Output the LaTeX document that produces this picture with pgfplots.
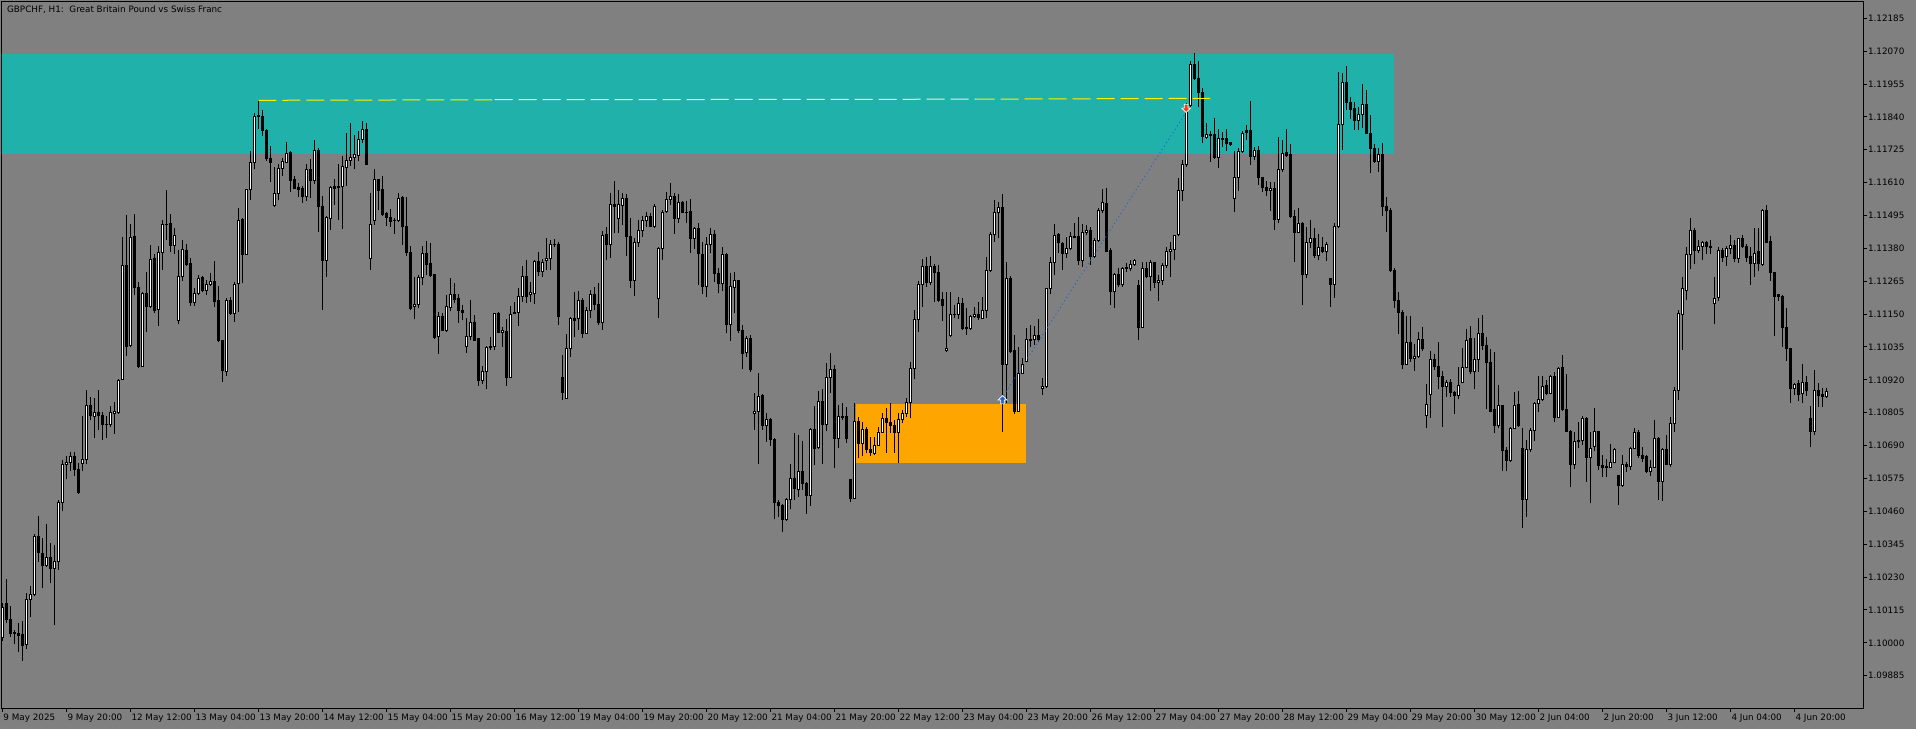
\documentclass[border=0pt]{standalone}
\usepackage{fontspec}
\setmainfont{DejaVu Sans}
\usepackage{pgfplots}
\usepackage{pgfplotstable}
\pgfplotsset{compat=1.18}
\definecolor{bggray}{HTML}{808080}
\definecolor{zonecyan}{HTML}{20B2AA}
\definecolor{zoneorange}{HTML}{FFA500}
\definecolor{tradeblue}{HTML}{1E64C8}
\definecolor{tradered}{HTML}{E8401C}
\definecolor{palelevel}{HTML}{E8F4EC}

\pgfplotstableread{
k o h l c
0 1.10018 1.10141 1.10005 1.10122
3 1.10034 1.10044 1.09996 1.10037
6 1.09993 1.10174 1.09977 1.10150
7 1.10150 1.10200 1.10090 1.10170
8 1.10170 1.10381 1.10163 1.10372
11 1.10271 1.10417 1.10264 1.10297
13 1.10260 1.10342 1.10064 1.10284
14 1.10284 1.10500 1.10255 1.10491
15 1.10491 1.10640 1.10461 1.10624
16 1.10624 1.10653 1.10572 1.10631
17 1.10631 1.10666 1.10601 1.10653
20 1.10629 1.10795 1.10601 1.10642
21 1.10642 1.10886 1.10624 1.10830
23 1.10792 1.10856 1.10715 1.10805
27 1.10765 1.10827 1.10756 1.10805
28 1.10801 1.10843 1.10730 1.10808
29 1.10805 1.10924 1.10801 1.10918
30 1.10922 1.11419 1.10918 1.11320
32 1.11041 1.11465 1.11034 1.11419
35 1.10968 1.11229 1.10966 1.11222
37 1.11177 1.11393 1.11170 1.11340
39 1.11166 1.11390 1.11110 1.11365
40 1.11367 1.11481 1.11304 1.11464
43 1.11390 1.11451 1.11361 1.11425
44 1.11129 1.11375 1.11115 1.11280
45 1.11283 1.11410 1.11267 1.11375
48 1.11190 1.11242 1.11177 1.11222
49 1.11222 1.11287 1.11216 1.11274
51 1.11234 1.11271 1.11216 1.11255
52 1.11255 1.11293 1.11248 1.11265
56 1.10948 1.11207 1.10935 1.11199
58 1.11152 1.11261 1.11121 1.11255
59 1.11257 1.11520 1.11158 1.11478
61 1.11359 1.11587 1.11358 1.11585
62 1.11585 1.11720 1.11548 1.11680
63 1.11680 1.11854 1.11656 1.11842
68 1.11530 1.11665 1.11526 1.11572
69 1.11572 1.11675 1.11548 1.11660
70 1.11660 1.11697 1.11634 1.11684
71 1.11682 1.11753 1.11678 1.11711
76 1.11561 1.11675 1.11546 1.11656
78 1.11617 1.11759 1.11604 1.11724
81 1.11339 1.11494 1.11280 1.11488
82 1.11485 1.11598 1.11445 1.11594
84 1.11594 1.11675 1.11481 1.11596
85 1.11595 1.11704 1.11449 1.11665
86 1.11662 1.11783 1.11600 1.11688
87 1.11686 1.11820 1.11669 1.11698
88 1.11697 1.11776 1.11656 1.11709
89 1.11706 1.11792 1.11684 1.11762
90 1.11762 1.11824 1.11750 1.11797
92 1.11345 1.11574 1.11304 1.11464
93 1.11478 1.11656 1.11462 1.11620
99 1.11477 1.11574 1.11471 1.11555
103 1.11177 1.11280 1.11132 1.11183
104 1.11183 1.11287 1.11170 1.11278
105 1.11278 1.11390 1.11251 1.11361
109 1.11070 1.11158 1.11009 1.11142
111 1.11093 1.11216 1.11089 1.11177
112 1.11173 1.11278 1.11160 1.11220
116 1.11038 1.11138 1.11015 1.11070
117 1.11071 1.11199 1.11059 1.11121
120 1.10919 1.10968 1.10905 1.10948
121 1.10948 1.11038 1.10888 1.11034
122 1.11034 1.11071 1.11024 1.11036
123 1.11036 1.11155 1.11024 1.11153
125 1.11085 1.11106 1.11036 1.11092
127 1.10929 1.11178 1.10925 1.11150
128 1.11153 1.11194 1.11150 1.11156
129 1.11156 1.11240 1.11108 1.11211
130 1.11211 1.11318 1.11194 1.11281
132 1.11217 1.11263 1.11194 1.11225
133 1.11223 1.11339 1.11184 1.11335
135 1.11298 1.11342 1.11279 1.11331
136 1.11336 1.11415 1.11304 1.11345
137 1.11345 1.11409 1.11304 1.11395
141 1.10855 1.11079 1.10852 1.11030
142 1.11030 1.11141 1.11001 1.11135
144 1.11135 1.11232 1.11094 1.11199
146 1.11083 1.11176 1.11079 1.11164
147 1.11164 1.11234 1.11138 1.11219
150 1.11121 1.11441 1.11094 1.11424
152 1.11395 1.11575 1.11345 1.11535
154 1.11485 1.11584 1.11433 1.11532
155 1.11529 1.11575 1.11462 1.11555
158 1.11269 1.11415 1.11213 1.11401
159 1.11401 1.11479 1.11386 1.11444
160 1.11444 1.11493 1.11421 1.11479
161 1.11479 1.11508 1.11456 1.11491
163 1.11456 1.11534 1.11450 1.11528
164 1.11205 1.11386 1.11135 1.11380
165 1.11380 1.11514 1.11339 1.11506
166 1.11508 1.11578 1.11505 1.11552
167 1.11552 1.11610 1.11532 1.11563
169 1.11485 1.11570 1.11468 1.11540
173 1.11415 1.11456 1.11378 1.11450
176 1.11246 1.11421 1.11209 1.11395
177 1.11395 1.11450 1.11363 1.11430
180 1.11258 1.11384 1.11232 1.11359
182 1.11114 1.11293 1.11057 1.11246
183 1.11244 1.11299 1.11153 1.11266
186 1.11016 1.11075 1.11001 1.11063
188 1.10803 1.10875 1.10745 1.10809
189 1.10809 1.10945 1.10624 1.10861
191 1.10760 1.10805 1.10704 1.10780
196 1.10430 1.10505 1.10427 1.10502
197 1.10502 1.10626 1.10467 1.10575
199 1.10538 1.10727 1.10511 1.10599
202 1.10515 1.10750 1.10479 1.10745
204 1.10684 1.10882 1.10677 1.10846
206 1.10764 1.10978 1.10742 1.10929
207 1.10929 1.11015 1.10875 1.10957
209 1.10715 1.10832 1.10680 1.10791
210 1.10789 1.10838 1.10780 1.10791
213 1.10505 1.10838 1.10502 1.10776
215 1.10698 1.10774 1.10654 1.10745
218 1.10663 1.10721 1.10657 1.10692
219 1.10692 1.10754 1.10689 1.10736
220 1.10736 1.10803 1.10733 1.10785
224 1.10736 1.10803 1.10628 1.10780
225 1.10780 1.10815 1.10768 1.10803
226 1.10803 1.10855 1.10789 1.10841
227 1.10841 1.10984 1.10785 1.10960
228 1.10960 1.11164 1.10922 1.11132
229 1.11132 1.11266 1.11089 1.11254
230 1.11254 1.11342 1.11176 1.11316
232 1.11260 1.11353 1.11252 1.11316
236 1.11021 1.11226 1.11019 1.11030
237 1.11074 1.11229 1.11071 1.11149
238 1.11147 1.11182 1.11135 1.11149
239 1.11149 1.11211 1.11133 1.11188
242 1.11100 1.11147 1.11094 1.11141
243 1.11141 1.11176 1.11138 1.11149
245 1.11135 1.11211 1.11133 1.11162
246 1.11162 1.11351 1.11135 1.11302
247 1.11302 1.11439 1.11299 1.11429
248 1.11429 1.11549 1.11404 1.11506
249 1.11506 1.11543 1.11415 1.11524
251 1.10974 1.11334 1.10838 1.11273
254 1.10811 1.11036 1.10809 1.10943
255 1.10943 1.10995 1.10943 1.10974
256 1.10984 1.11100 1.10981 1.11060
257 1.11056 1.11112 1.11036 1.11060
258 1.11060 1.11110 1.11042 1.11074
260 1.10890 1.10928 1.10867 1.10896
261 1.10896 1.11243 1.10890 1.11240
262 1.11240 1.11351 1.11219 1.11331
263 1.11331 1.11464 1.11287 1.11425
266 1.11363 1.11421 1.11345 1.11378
267 1.11378 1.11439 1.11374 1.11423
270 1.11336 1.11465 1.11316 1.11436
271 1.11436 1.11462 1.11427 1.11441
273 1.11350 1.11415 1.11345 1.11409
274 1.11409 1.11520 1.11404 1.11514
275 1.11514 1.11588 1.11503 1.11541
278 1.11229 1.11293 1.11173 1.11289
280 1.11252 1.11316 1.11246 1.11310
281 1.11308 1.11328 1.11299 1.11313
282 1.11310 1.11339 1.11301 1.11322
283 1.11322 1.11342 1.11320 1.11339
285 1.11103 1.11334 1.11100 1.11310
287 1.11281 1.11339 1.11231 1.11331
289 1.11261 1.11287 1.11196 1.11269
290 1.11269 1.11328 1.11252 1.11320
291 1.11320 1.11386 1.11313 1.11369
292 1.11369 1.11404 1.11281 1.11377
293 1.11377 1.11427 1.11339 1.11425
294 1.11427 1.11625 1.11425 1.11581
295 1.11581 1.11689 1.11546 1.11672
296 1.11672 1.11888 1.11666 1.11879
297 1.11879 1.12036 1.11876 1.12022
301 1.11767 1.11818 1.11763 1.11779
304 1.11697 1.11798 1.11662 1.11763
305 1.11762 1.11786 1.11736 1.11764
308 1.11553 1.11721 1.11508 1.11629
309 1.11629 1.11732 1.11581 1.11718
310 1.11718 1.11791 1.11713 1.11783
313 1.11703 1.11735 1.11689 1.11721
317 1.11584 1.11613 1.11511 1.11588
319 1.11482 1.11771 1.11468 1.11657
320 1.11657 1.11759 1.11648 1.11713
324 1.11436 1.11520 1.11433 1.11468
326 1.11289 1.11456 1.11275 1.11401
327 1.11401 1.11479 1.11380 1.11415
329 1.11355 1.11429 1.11339 1.11384
331 1.11369 1.11404 1.11336 1.11392
333 1.11252 1.11468 1.11205 1.11456
334 1.11456 1.11998 1.11453 1.11814
335 1.11814 1.11993 1.11724 1.11961
339 1.11826 1.11876 1.11794 1.11847
340 1.11847 1.11954 1.11800 1.11884
344 1.11683 1.11732 1.11648 1.11707
351 1.10974 1.11143 1.10972 1.11051
353 1.10995 1.11044 1.10951 1.11001
354 1.11001 1.11086 1.10998 1.11062
356 1.10794 1.10904 1.10753 1.10834
357 1.10869 1.11021 1.10785 1.10990
361 1.10896 1.10920 1.10861 1.10911
364 1.10867 1.10966 1.10852 1.10902
365 1.10911 1.11030 1.10908 1.10964
366 1.10964 1.11098 1.10960 1.11056
368 1.10949 1.11065 1.10887 1.10993
369 1.10993 1.11135 1.10949 1.11083
374 1.10760 1.10902 1.10750 1.10832
377 1.10637 1.10756 1.10634 1.10750
378 1.10750 1.10879 1.10747 1.10832
381 1.10502 1.10710 1.10441 1.10677
382 1.10677 1.10750 1.10669 1.10742
383 1.10742 1.10844 1.10706 1.10838
384 1.10838 1.10934 1.10809 1.10852
385 1.10852 1.10934 1.10846 1.10896
387 1.10873 1.10937 1.10869 1.10931
389 1.10788 1.10966 1.10785 1.10960
393 1.10625 1.10736 1.10608 1.10704
394 1.10704 1.10774 1.10683 1.10707
395 1.10707 1.10794 1.10692 1.10785
397 1.10648 1.10739 1.10488 1.10681
398 1.10686 1.10820 1.10671 1.10739
401 1.10615 1.10642 1.10581 1.10618
402 1.10614 1.10695 1.10611 1.10632
403 1.10632 1.10681 1.10628 1.10675
405 1.10550 1.10657 1.10546 1.10625
407 1.10616 1.10686 1.10605 1.10681
408 1.10681 1.10753 1.10677 1.10737
412 1.10599 1.10640 1.10585 1.10614
413 1.10614 1.10780 1.10611 1.10716
415 1.10564 1.10681 1.10496 1.10675
417 1.10625 1.10791 1.10616 1.10766
418 1.10766 1.10896 1.10739 1.10882
419 1.10882 1.11164 1.10850 1.11153
420 1.11149 1.11281 1.11024 1.11240
421 1.11233 1.11386 1.11199 1.11359
422 1.11359 1.11485 1.11307 1.11441
424 1.11374 1.11409 1.11363 1.11388
425 1.11388 1.11406 1.11339 1.11401
428 1.11188 1.11279 1.11114 1.11205
429 1.11209 1.11386 1.11196 1.11374
431 1.11353 1.11388 1.11318 1.11380
432 1.11380 1.11427 1.11359 1.11390
434 1.11345 1.11418 1.11328 1.11413
438 1.11328 1.11450 1.11281 1.11363
440 1.11324 1.11517 1.11320 1.11512
448 1.10890 1.10908 1.10867 1.10904
450 1.10873 1.10974 1.10838 1.10910
453 1.10739 1.10955 1.10727 1.10882
456 1.10861 1.10890 1.10855 1.10879
}\bull

\pgfplotstableread{
k o h l c
1 1.10137 1.10223 1.10070 1.10081
2 1.10083 1.10128 1.10021 1.10031
4 1.10034 1.10070 1.09967 1.10024
5 1.10028 1.10077 1.09937 1.09989
9 1.10372 1.10443 1.10284 1.10316
10 1.10313 1.10368 1.10193 1.10271
12 1.10297 1.10349 1.10209 1.10260
18 1.10653 1.10668 1.10584 1.10605
19 1.10607 1.10629 1.10521 1.10526
22 1.10830 1.10860 1.10778 1.10795
24 1.10805 1.10883 1.10743 1.10795
25 1.10795 1.10808 1.10711 1.10763
26 1.10765 1.10795 1.10717 1.10764
31 1.11320 1.11497 1.11005 1.11038
33 1.11423 1.11499 1.11216 1.11242
34 1.11244 1.11261 1.10961 1.10966
36 1.11222 1.11297 1.11089 1.11177
38 1.11343 1.11361 1.11153 1.11161
41 1.11464 1.11585 1.11410 1.11462
42 1.11467 1.11499 1.11367 1.11390
46 1.11374 1.11397 1.11317 1.11322
47 1.11326 1.11345 1.11177 1.11190
50 1.11277 1.11284 1.11229 1.11233
53 1.11265 1.11337 1.11174 1.11194
54 1.11196 1.11248 1.11054 1.11057
55 1.11059 1.11060 1.10914 1.10953
57 1.11199 1.11209 1.11148 1.11152
60 1.11481 1.11488 1.11258 1.11359
64 1.11845 1.11899 1.11798 1.11841
65 1.11843 1.11863 1.11772 1.11792
66 1.11794 1.11798 1.11686 1.11693
67 1.11696 1.11737 1.11613 1.11682
72 1.11714 1.11720 1.11578 1.11617
73 1.11620 1.11634 1.11587 1.11591
74 1.11594 1.11607 1.11559 1.11587
75 1.11591 1.11600 1.11539 1.11561
77 1.11656 1.11691 1.11555 1.11617
79 1.11724 1.11731 1.11436 1.11526
80 1.11526 1.11565 1.11164 1.11339
83 1.11595 1.11623 1.11533 1.11590
91 1.11797 1.11818 1.11671 1.11673
94 1.11620 1.11623 1.11513 1.11582
95 1.11585 1.11632 1.11494 1.11500
96 1.11503 1.11507 1.11458 1.11488
97 1.11488 1.11517 1.11455 1.11475
98 1.11478 1.11488 1.11429 1.11477
100 1.11559 1.11565 1.11393 1.11458
101 1.11458 1.11561 1.11352 1.11365
102 1.11367 1.11388 1.11164 1.11168
106 1.11361 1.11406 1.11287 1.11322
107 1.11326 1.11400 1.11280 1.11284
108 1.11287 1.11289 1.11064 1.11067
110 1.11142 1.11155 1.11090 1.11093
113 1.11220 1.11258 1.11190 1.11200
114 1.11203 1.11222 1.11119 1.11161
115 1.11164 1.11183 1.11129 1.11155
118 1.11121 1.11147 1.11056 1.11059
119 1.11063 1.11065 1.10900 1.10919
124 1.11153 1.11158 1.11083 1.11085
126 1.11089 1.11132 1.10898 1.10929
131 1.11281 1.11339 1.11190 1.11211
134 1.11335 1.11368 1.11283 1.11298
138 1.11395 1.11413 1.11386 1.11392
139 1.11395 1.11403 1.11112 1.11141
140 1.10929 1.11007 1.10849 1.10876
143 1.11135 1.11226 1.11071 1.11129
145 1.11199 1.11205 1.11068 1.11083
148 1.11219 1.11246 1.11164 1.11184
149 1.11184 1.11260 1.11112 1.11121
151 1.11429 1.11456 1.11339 1.11395
153 1.11535 1.11616 1.11433 1.11528
156 1.11555 1.11570 1.11353 1.11421
157 1.11423 1.11485 1.11240 1.11267
162 1.11491 1.11505 1.11454 1.11456
168 1.11563 1.11573 1.11430 1.11485
170 1.11540 1.11547 1.11503 1.11505
171 1.11507 1.11547 1.11470 1.11505
172 1.11508 1.11552 1.11363 1.11415
174 1.11450 1.11470 1.11252 1.11363
175 1.11360 1.11404 1.11220 1.11246
178 1.11430 1.11444 1.11264 1.11293
179 1.11293 1.11310 1.11223 1.11258
181 1.11359 1.11365 1.11083 1.11114
184 1.11266 1.11267 1.11083 1.11092
185 1.11094 1.11112 1.10958 1.11013
187 1.11065 1.11077 1.10947 1.10958
190 1.10864 1.10871 1.10745 1.10760
192 1.10780 1.10785 1.10689 1.10710
193 1.10710 1.10715 1.10432 1.10491
194 1.10491 1.10500 1.10441 1.10479
195 1.10479 1.10484 1.10387 1.10430
198 1.10575 1.10733 1.10500 1.10540
200 1.10599 1.10707 1.10535 1.10558
201 1.10558 1.10564 1.10450 1.10515
203 1.10745 1.10829 1.10622 1.10680
205 1.10846 1.10887 1.10624 1.10764
208 1.10957 1.10972 1.10610 1.10715
211 1.10791 1.10826 1.10698 1.10715
212 1.10570 1.10572 1.10491 1.10505
214 1.10776 1.10791 1.10645 1.10698
216 1.10745 1.10756 1.10663 1.10677
217 1.10677 1.10719 1.10654 1.10665
221 1.10785 1.10820 1.10665 1.10770
222 1.10771 1.10838 1.10733 1.10760
223 1.10759 1.10780 1.10665 1.10736
231 1.11316 1.11349 1.11246 1.11260
233 1.11316 1.11324 1.11194 1.11296
234 1.11296 1.11322 1.11194 1.11196
235 1.11200 1.11229 1.11126 1.11180
240 1.11188 1.11208 1.11094 1.11100
241 1.11103 1.11170 1.11077 1.11098
244 1.11147 1.11191 1.11130 1.11138
250 1.11524 1.11569 1.10739 1.10974
252 1.11273 1.11285 1.11013 1.11019
253 1.11021 1.11077 1.10799 1.10811
259 1.11074 1.11133 1.11054 1.11060
264 1.11429 1.11433 1.11363 1.11401
265 1.11398 1.11404 1.11303 1.11363
268 1.11423 1.11468 1.11415 1.11418
269 1.11421 1.11491 1.11322 1.11336
272 1.11442 1.11456 1.11322 1.11350
276 1.11538 1.11590 1.11366 1.11369
277 1.11371 1.11383 1.11182 1.11229
279 1.11289 1.11310 1.11246 1.11252
284 1.11250 1.11269 1.11060 1.11103
286 1.11310 1.11334 1.11275 1.11281
288 1.11331 1.11334 1.11240 1.11261
298 1.12022 1.12065 1.11969 1.11973
299 1.11973 1.12036 1.11876 1.11925
300 1.11925 1.11940 1.11748 1.11771
302 1.11779 1.11791 1.11683 1.11774
303 1.11777 1.11837 1.11693 1.11697
306 1.11763 1.11797 1.11721 1.11748
307 1.11750 1.11753 1.11739 1.11745
311 1.11791 1.11812 1.11759 1.11786
312 1.11791 1.11896 1.11672 1.11703
314 1.11723 1.11738 1.11602 1.11627
315 1.11627 1.11631 1.11578 1.11592
316 1.11592 1.11616 1.11563 1.11584
318 1.11588 1.11613 1.11444 1.11482
321 1.11715 1.11797 1.11701 1.11704
322 1.11707 1.11744 1.11487 1.11491
323 1.11491 1.11514 1.11334 1.11436
325 1.11468 1.11474 1.11182 1.11289
328 1.11415 1.11453 1.11345 1.11355
330 1.11384 1.11421 1.11363 1.11369
332 1.11275 1.11278 1.11176 1.11252
336 1.11961 1.12019 1.11864 1.11891
337 1.11891 1.11911 1.11833 1.11867
338 1.11870 1.11893 1.11794 1.11826
341 1.11884 1.11934 1.11779 1.11783
342 1.11783 1.11847 1.11643 1.11728
343 1.11728 1.11744 1.11678 1.11683
345 1.11707 1.11748 1.11495 1.11526
346 1.11526 1.11561 1.11439 1.11512
347 1.11514 1.11520 1.11299 1.11301
348 1.11304 1.11310 1.11170 1.11196
349 1.11196 1.11229 1.11079 1.11155
350 1.11156 1.11164 1.10957 1.10974
352 1.11051 1.11143 1.10984 1.10995
355 1.11060 1.11104 1.11021 1.11028
358 1.10990 1.11009 1.10955 1.10966
359 1.10966 1.11054 1.10887 1.10931
360 1.10931 1.10951 1.10756 1.10896
362 1.10911 1.10922 1.10861 1.10876
363 1.10876 1.10881 1.10799 1.10867
367 1.11065 1.11110 1.10939 1.10949
370 1.11083 1.11147 1.11025 1.11040
371 1.11040 1.11071 1.10817 1.10981
372 1.10981 1.11028 1.10806 1.10811
373 1.10815 1.11019 1.10735 1.10760
375 1.10832 1.10832 1.10602 1.10672
376 1.10672 1.10686 1.10602 1.10637
379 1.10834 1.10881 1.10756 1.10760
380 1.10680 1.10750 1.10401 1.10502
386 1.10899 1.10920 1.10867 1.10873
388 1.10931 1.10949 1.10774 1.10788
390 1.10964 1.11007 1.10811 1.10818
391 1.10818 1.10939 1.10739 1.10741
392 1.10741 1.10745 1.10546 1.10625
396 1.10785 1.10791 1.10564 1.10648
399 1.10741 1.10741 1.10605 1.10619
400 1.10619 1.10657 1.10581 1.10614
404 1.10585 1.10587 1.10482 1.10550
406 1.10625 1.10634 1.10597 1.10616
409 1.10737 1.10745 1.10646 1.10654
410 1.10657 1.10686 1.10634 1.10646
411 1.10651 1.10657 1.10593 1.10599
414 1.10716 1.10721 1.10500 1.10564
416 1.10675 1.10727 1.10622 1.10625
423 1.11441 1.11450 1.11325 1.11374
426 1.11401 1.11406 1.11359 1.11386
427 1.11386 1.11409 1.11359 1.11384
430 1.11374 1.11383 1.11334 1.11349
433 1.11390 1.11409 1.11331 1.11345
435 1.11413 1.11427 1.11380 1.11386
436 1.11388 1.11394 1.11331 1.11349
437 1.11351 1.11386 1.11252 1.11328
439 1.11369 1.11450 1.11301 1.11328
441 1.11512 1.11532 1.11398 1.11401
442 1.11404 1.11423 1.11266 1.11296
443 1.11296 1.11299 1.11075 1.11211
444 1.11217 1.11219 1.11196 1.11211
445 1.11211 1.11217 1.11036 1.11103
446 1.11103 1.11170 1.10986 1.11028
447 1.11030 1.11033 1.10838 1.10890
449 1.10906 1.10920 1.10847 1.10869
451 1.10910 1.10934 1.10865 1.10882
452 1.10785 1.10829 1.10686 1.10739
454 1.10882 1.10908 1.10826 1.10867
455 1.10869 1.10893 1.10826 1.10861
}\bear

\pgfdeclareplotmark{buyarrow}{%
  \pgfpathmoveto{\pgfqpoint{0pt}{2.1pt}}%
  \pgfpathlineto{\pgfqpoint{2.2pt}{-0.1pt}}%
  \pgfpathlineto{\pgfqpoint{0.9pt}{-0.1pt}}%
  \pgfpathlineto{\pgfqpoint{0.9pt}{-2pt}}%
  \pgfpathlineto{\pgfqpoint{-0.9pt}{-2pt}}%
  \pgfpathlineto{\pgfqpoint{-0.9pt}{-0.1pt}}%
  \pgfpathlineto{\pgfqpoint{-2.2pt}{-0.1pt}}%
  \pgfpathclose\pgfusepathqfillstroke}
\pgfdeclareplotmark{sellarrow}{%
  \pgfpathmoveto{\pgfqpoint{0pt}{-2.1pt}}%
  \pgfpathlineto{\pgfqpoint{2.2pt}{0.1pt}}%
  \pgfpathlineto{\pgfqpoint{0.9pt}{0.1pt}}%
  \pgfpathlineto{\pgfqpoint{0.9pt}{2pt}}%
  \pgfpathlineto{\pgfqpoint{-0.9pt}{2pt}}%
  \pgfpathlineto{\pgfqpoint{-0.9pt}{0.1pt}}%
  \pgfpathlineto{\pgfqpoint{-2.2pt}{0.1pt}}%
  \pgfpathclose\pgfusepathqfillstroke}

\pgfplotsset{
  ebar/.style 2 args={forget plot, draw=none, mark=none,
    error bars/.cd, y dir=plus, y explicit, error mark=none,
    error bar style={draw=#1, line width=#2, solid}},
  cmark/.style={forget plot, only marks, mark=-, mark size=0.75pt,
    mark options={draw=black, line width=0.5pt, solid}},
}

\begin{document}
\begin{tikzpicture}[font=\fontsize{4.4}{5.3}\selectfont]
\fill[bggray] (0,0) rectangle (958pt,364.5pt);
\begin{axis}[
  at={(1pt,10.5pt)}, anchor=south west, scale only axis,
  width=930.5pt, height=353pt,
  xmin=-0.125, xmax=465.125, ymin=1.09772, ymax=1.12242,
  axis line style={black, line width=0.5pt},
  tick style={black, line width=0.5pt},
  tick align=outside, major tick length=2pt,
  xtick pos=left, ytick pos=right, yticklabel pos=right,
  xtick={0,16,...,448},
  xticklabels={9 May 2025,9 May 20:00,12 May 12:00,13 May 04:00,13 May 20:00,14 May 12:00,15 May 04:00,15 May 20:00,16 May 12:00,19 May 04:00,19 May 20:00,20 May 12:00,21 May 04:00,21 May 20:00,22 May 12:00,23 May 04:00,23 May 20:00,26 May 12:00,27 May 04:00,27 May 20:00,28 May 12:00,29 May 04:00,29 May 20:00,30 May 12:00,2 Jun 04:00,2 Jun 20:00,3 Jun 12:00,4 Jun 04:00,4 Jun 20:00},
  ytick={1.09885,1.10000,1.10115,1.10230,1.10345,1.10460,1.10575,1.10690,1.10805,1.10920,1.11035,1.11150,1.11265,1.11380,1.11495,1.11610,1.11725,1.11840,1.11955,1.12070,1.12185},
  yticklabels={1.09885,1.10000,1.10115,1.10230,1.10345,1.10460,1.10575,1.10690,1.10805,1.10920,1.11035,1.11150,1.11265,1.11380,1.11495,1.11610,1.11725,1.11840,1.11955,1.12070,1.12185},
  tick label style={font=\fontsize{4.4}{5.3}\selectfont, text=black},
  xticklabel style={anchor=north west, inner sep=0pt, xshift=0.3pt, yshift=-1pt},
  yticklabel style={anchor=west, inner sep=0pt, xshift=0.3pt},
  scaled y ticks=false,
]
% zones
\addplot[forget plot, draw=none, fill=zonecyan] coordinates {(-2,1.11711) (347.8,1.11711) (347.8,1.12060) (-2,1.12060)} -- cycle;
\addplot[forget plot, draw=none, fill=zoneorange] coordinates {(213.3,1.10630) (255.8,1.10630) (255.8,1.10836) (213.3,1.10836)} -- cycle;
% wicks
\addplot[ebar={black}{0.5pt}] table[x=k,y=l,y error plus expr=\thisrow{h}-\thisrow{l}]{\bull};
\addplot[ebar={black}{0.5pt}] table[x=k,y=l,y error plus expr=\thisrow{h}-\thisrow{l}]{\bear};
% bodies
\addplot[ebar={black}{1.5pt}] table[x=k,y=c,y error plus expr=\thisrow{o}-\thisrow{c}]{\bear};
\addplot[ebar={black}{1.5pt}] table[x=k,y=o,y error plus expr=\thisrow{c}-\thisrow{o}]{\bull};
\addplot[ebar={white}{0.5pt}] table[x=k,y=o,y error plus expr=\thisrow{c}-\thisrow{o}]{\bull};
\addplot[cmark] table[x=k,y=o]{\bull};
\addplot[cmark] table[x=k,y=c]{\bull};
\addplot[cmark] table[x=k,y=o]{\bear};
\addplot[cmark] table[x=k,y=c]{\bear};
% level lines
\addplot[forget plot, yellow, line width=0.5pt, dash pattern=on 9pt off 3pt] coordinates {(63.95,1.11898) (123,1.11900)};
\addplot[forget plot, palelevel, line width=0.5pt, dash pattern=on 9pt off 3pt] coordinates {(123,1.11900) (243.5,1.11902)};
\addplot[forget plot, yellow, line width=0.5pt, dash pattern=on 9pt off 3pt] coordinates {(243.5,1.11902) (301.9,1.11905)};
\addplot[forget plot, tradeblue, line width=0.5pt, dash pattern=on 0.5pt off 1.5pt] coordinates {(250.3,1.10866) (295.9,1.11856)};
% trade arrows
\addplot[forget plot, only marks, mark=buyarrow, mark options={fill=tradeblue, draw=white, line width=0.35pt, solid}] coordinates {(250,1.10850)};
\addplot[forget plot, only marks, mark=sellarrow, mark options={fill=tradered, draw=white, line width=0.35pt, solid}] coordinates {(295.9,1.11870)};
\end{axis}
\node[anchor=west, inner sep=0pt, text=black] at (3.35pt,359.5pt) {GBPCHF, H1:\ \ Great Britain Pound vs Swiss Franc};
\pgfresetboundingbox
\useasboundingbox (0,0) rectangle (958pt,364.5pt);
\end{tikzpicture}
\end{document}
